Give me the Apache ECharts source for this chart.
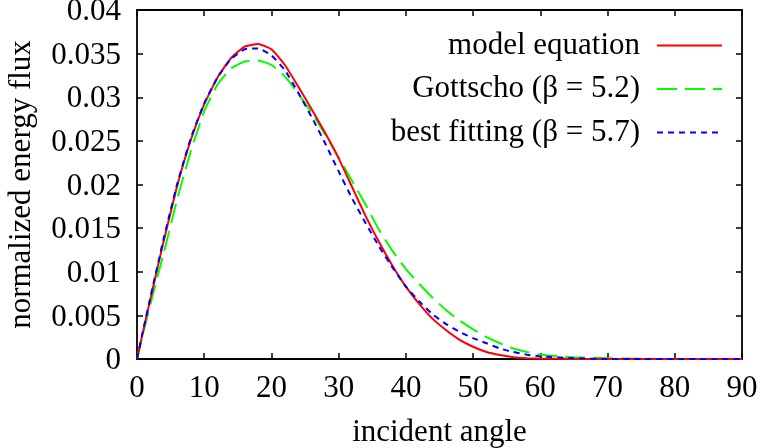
<!DOCTYPE html>
<html>
<head>
<meta charset="utf-8">
<script src="https://cdn.jsdelivr.net/npm/echarts@6/dist/echarts.min.js"></script>
<style>html,body{margin:0;padding:0;background:#fff;}#c{width:765px;height:448px;}</style>
</head>
<body>
<div id="c"></div>
<script>
const angles = [0,1,2,3,4,6,8,10,12,14,16,18,20,22,24,26,28,30,32,34,36,38,40,42,44,46,48,50,52,54,56,58,60,65,70,75,80,85,90];
const modelEquation = [0,0.0035,0.0069,0.0103,0.0136,0.0199,0.0251,0.0292,0.0323,0.0345,0.0358,0.0361,0.0355,0.0337,0.0312,0.0286,0.0259,0.0230,0.0197,0.0164,0.0134,0.0107,0.0083,0.0063,0.0046,0.0033,0.0022,0.0014,0.0008,0.00045,0.0002,0.0001,0.00004,0,0,0,0,0,0];
const gottscho = [0,0.0032,0.0063,0.0093,0.0122,0.0184,0.0238,0.0284,0.0315,0.0333,0.0341,0.0342,0.0337,0.0324,0.0304,0.0282,0.0257,0.0231,0.0204,0.0177,0.0148,0.0124,0.0103,0.0086,0.0070,0.0056,0.0044,0.0034,0.0025,0.0018,0.0012,0.0008,0.0005,0.0002,0.0001,0.00003,0,0,0];
const bestFitting = [0,0.0036,0.0071,0.0105,0.0139,0.0201,0.0253,0.0293,0.0323,0.0344,0.0355,0.0356,0.0348,0.0331,0.0305,0.0277,0.0247,0.0215,0.0184,0.0156,0.0129,0.0105,0.0083,0.0066,0.0051,0.0040,0.0031,0.0024,0.0018,0.0012,0.0008,0.0005,0.0003,0.0001,0,0,0,0,0];
const seriesNames = ['model equation','Gottscho (β = 5.2)','best fitting (β = 5.7)'];
const xTickLabels = ['0','10','20','30','40','50','60','70','80','90'];
const yTickLabels = ['0','0.005','0.01','0.015','0.02','0.025','0.03','0.035','0.04'];

const font = "'Liberation Serif','Times New Roman',serif";
const fs = 31;
const pairs = arr => angles.map((a,i)=>[a,arr[i]]);
const chart = echarts.init(document.getElementById('c'), null, {renderer:'canvas'});
const tickStyle = {show:true, inside:true, length:6, lineStyle:{color:'#000', width:1.5}};
const lineAx = {show:true, onZero:false, lineStyle:{color:'#000', width:1.8}};
chart.setOption({
  animation:false,
  backgroundColor:'#fff',
  grid:{left:137, top:10, right:23, bottom:89, containLabel:false, outerBoundsMode:'none'},
  legend:{
    orient:'vertical', right:37, top:25, align:'right',
    itemWidth:65, itemHeight:14, itemGap:12.5,
    data:seriesNames,
    itemStyle:{opacity:0},
    textStyle:{fontFamily:font, fontSize:fs, color:'#000', lineHeight:31, padding:[0,12,0,0]}
  },
  xAxis:[{
    type:'value', min:0, max:90, interval:10, position:'bottom',
    axisLine:lineAx, axisTick:tickStyle, splitLine:{show:false},
    axisLabel:{fontFamily:font, fontSize:fs, color:'#000', margin:14,
      formatter:(v)=>xTickLabels[Math.round(v/10)]},
    name:'incident angle', nameLocation:'middle', nameGap:58,
    nameTextStyle:{fontFamily:font, fontSize:fs, color:'#000'}
  },{
    type:'value', min:0, max:90, interval:10, position:'top',
    axisLine:lineAx, axisTick:tickStyle, axisLabel:{show:false}, splitLine:{show:false}
  }],
  yAxis:[{
    type:'value', min:0, max:0.04, interval:0.005, position:'left',
    axisLine:lineAx, axisTick:tickStyle, splitLine:{show:false},
    axisLabel:{fontFamily:font, fontSize:fs, color:'#000', margin:16,
      formatter:(v)=>'{a|' + yTickLabels[Math.round(v/0.005)] + '}',
      rich:{a:{fontFamily:font, fontSize:fs, color:'#000', lineHeight:31, padding:[4,0,0,0]}}},
    name:'normalized energy flux', nameLocation:'middle', nameGap:100,
    nameTextStyle:{fontFamily:font, fontSize:fs, color:'#000'}
  },{
    type:'value', min:0, max:0.04, interval:0.005, position:'right',
    axisLine:lineAx, axisTick:tickStyle, axisLabel:{show:false}, splitLine:{show:false}
  }],
  series:[
    {name:seriesNames[0], type:'line', data:pairs(modelEquation), symbol:'none', smooth:0.15,
      lineStyle:{color:'#ff0000', width:2, type:'solid'}, itemStyle:{color:'#ff0000'}, z:3},
    {name:seriesNames[1], type:'line', data:pairs(gottscho), symbol:'none', smooth:0.15,
      lineStyle:{color:'#00ff00', width:2, type:[20,8]}, itemStyle:{color:'#00ff00'}, z:2},
    {name:seriesNames[2], type:'line', data:pairs(bestFitting), symbol:'none', smooth:0.15,
      lineStyle:{color:'#0000ff', width:2, type:[6,5]}, itemStyle:{color:'#0000ff'}, z:4}
  ]
});
</script>
</body>
</html>
